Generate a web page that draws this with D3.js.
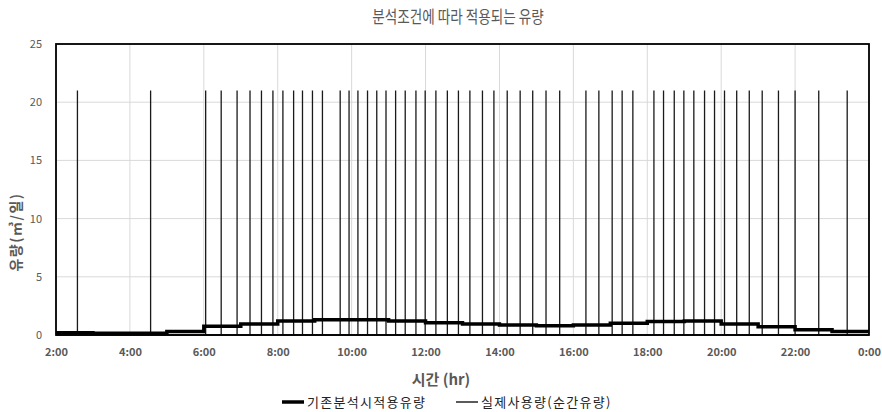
<!DOCTYPE html>
<html>
<head>
<meta charset="utf-8">
<script src="https://cdn.jsdelivr.net/npm/d3@7"></script>
<style>
  body { margin: 0; background: #fff; }
  text { font-family: "Noto Sans CJK KR", "Noto Sans", sans-serif; }
</style>
</head>
<body>
<svg id="chart" width="882" height="412"></svg>
<script>
// hourly design flow (thick step line), hour of day 2..23
const hours = [2, 3, 4, 5, 6, 7, 8, 9, 10, 11, 12, 13, 14, 15, 16, 17, 18, 19, 20, 21, 22, 23]
const baseFlow = [0.2, 0.15, 0.15, 0.3, 0.75, 0.95, 1.2, 1.3, 1.3, 1.2, 1.05, 0.95, 0.85, 0.8, 0.85, 1.0, 1.15, 1.2, 0.95, 0.7, 0.45, 0.3]

// instantaneous use: spikes (hour of day) at 21
const spikeTimes = [2.58, 4.56, 6.05, 6.47, 6.9, 7.25, 7.56, 7.87, 8.14, 8.43, 8.67, 8.94, 9.21,
  9.69, 9.93, 10.17, 10.43, 10.68, 10.93, 11.19, 11.45, 11.74, 11.99, 12.28, 12.59, 12.89,
  13.2, 13.54, 13.85, 14.21, 14.56, 14.9, 15.26, 15.63, 16.34, 16.69, 17.05, 17.32, 17.61,
  18.18, 18.44, 18.73, 18.99, 19.26, 19.55, 19.82, 20.09, 20.42, 20.76, 21.11, 21.55, 22.0,
  22.64, 23.41]
const spikeValue = 21

const xTicks = [2, 4, 6, 8, 10, 12, 14, 16, 18, 20, 22, 24]
const yTicks = [0, 5, 10, 15, 20, 25]

const title = "분석조건에 따라 적용되는 유량"
const xTitle = "시간 (hr)"
const yTitle = "유량(㎥/일)"
const legendNames = ["기존분석시적용유량", "실제사용량(순간유량)"]

const margin = {top: 44, right: 13, bottom: 77, left: 56}
const width = 882, height = 412
const svg = d3.select("#chart")

const x = d3.scaleLinear().domain([2, 24]).range([margin.left, width - margin.right])
const y = d3.scaleLinear().domain([0, 25]).range([height - margin.bottom, margin.top])

// grid
svg.append("g")
  .selectAll("line.h")
  .data(yTicks)
  .join("line")
  .attr("x1", x(2)).attr("x2", x(24))
  .attr("y1", d => y(d)).attr("y2", d => y(d))
  .attr("stroke", "#d9d9d9").attr("stroke-width", 1)

svg.append("g")
  .selectAll("line.v")
  .data(xTicks)
  .join("line")
  .attr("x1", d => x(d)).attr("x2", d => x(d))
  .attr("y1", y(0)).attr("y2", y(25))
  .attr("stroke", "#d9d9d9").attr("stroke-width", 1)

// axes (labels only)
const xAxis = svg.append("g")
  .attr("transform", "translate(0," + (y(0) + 8) + ")")
  .call(d3.axisBottom(x).tickValues(xTicks).tickSize(0)
    .tickFormat(d => (d % 24) + ":00"))
xAxis.select(".domain").remove()
xAxis.selectAll("text")
  .attr("fill", "#595959").attr("font-size", 11).attr("font-weight", "bold")
  .attr("dy", "0.9em")

const yAxis = svg.append("g")
  .attr("transform", "translate(" + (x(2) - 11) + ",0)")
  .call(d3.axisLeft(y).tickValues(yTicks).tickSize(0))
yAxis.select(".domain").remove()
yAxis.selectAll("text")
  .attr("fill", "#595959").attr("font-size", 11)

// thin spike line
const spikePts = [[2, 0]]
spikeTimes.forEach(t => {
  spikePts.push([t, 0], [t, spikeValue], [t, 0])
})
spikePts.push([24, 0])

svg.append("path")
  .datum(spikePts)
  .attr("fill", "none")
  .attr("stroke", "#1a1a1a")
  .attr("stroke-width", 1.3)
  .attr("d", d3.line().x(d => x(d[0])).y(d => y(d[1])))

// thick step line
const stepPts = hours.map((h, i) => [h, baseFlow[i]])
stepPts.push([24, baseFlow[baseFlow.length - 1]])

svg.append("path")
  .datum(stepPts)
  .attr("fill", "none")
  .attr("stroke", "#000")
  .attr("stroke-width", 3.5)
  .attr("d", d3.line().curve(d3.curveStepAfter).x(d => x(d[0])).y(d => y(d[1])))

// plot frame
svg.append("rect")
  .attr("x", x(2)).attr("y", y(25))
  .attr("width", x(24) - x(2)).attr("height", y(0) - y(25))
  .attr("fill", "none").attr("stroke", "#000").attr("stroke-width", 1.8)

// titles (title font is condensed in the original, so squeeze it)
svg.append("text")
  .attr("transform", "translate(458,23) scale(0.8,1)")
  .attr("text-anchor", "middle")
  .attr("font-size", 17).attr("fill", "#595959")
  .text(title)

svg.append("text")
  .attr("x", 441).attr("y", 385)
  .attr("text-anchor", "middle")
  .attr("font-size", 15).attr("font-weight", "bold").attr("fill", "#595959")
  .text(xTitle)

svg.append("text")
  .attr("transform", "translate(21,232) rotate(-90)")
  .attr("text-anchor", "middle")
  .attr("font-size", 14).attr("letter-spacing", 1.5).attr("font-weight", "bold").attr("fill", "#595959")
  .text(yTitle)

// legend
const legend = svg.append("g").attr("transform", "translate(0,402)")
const legendX = [282, 456]
const legendW = [3.5, 1.3]
legendNames.forEach((name, i) => {
  legend.append("line")
    .attr("x1", legendX[i]).attr("x2", legendX[i] + 22)
    .attr("y1", 0).attr("y2", 0)
    .attr("stroke", "#000").attr("stroke-width", legendW[i])
  legend.append("text")
    .attr("x", legendX[i] + 25).attr("y", 0)
    .attr("dy", "0.35em")
    .attr("font-size", 13).attr("letter-spacing", 1.3).attr("fill", "#222")
    .text(name)
})
</script>
</body>
</html>
